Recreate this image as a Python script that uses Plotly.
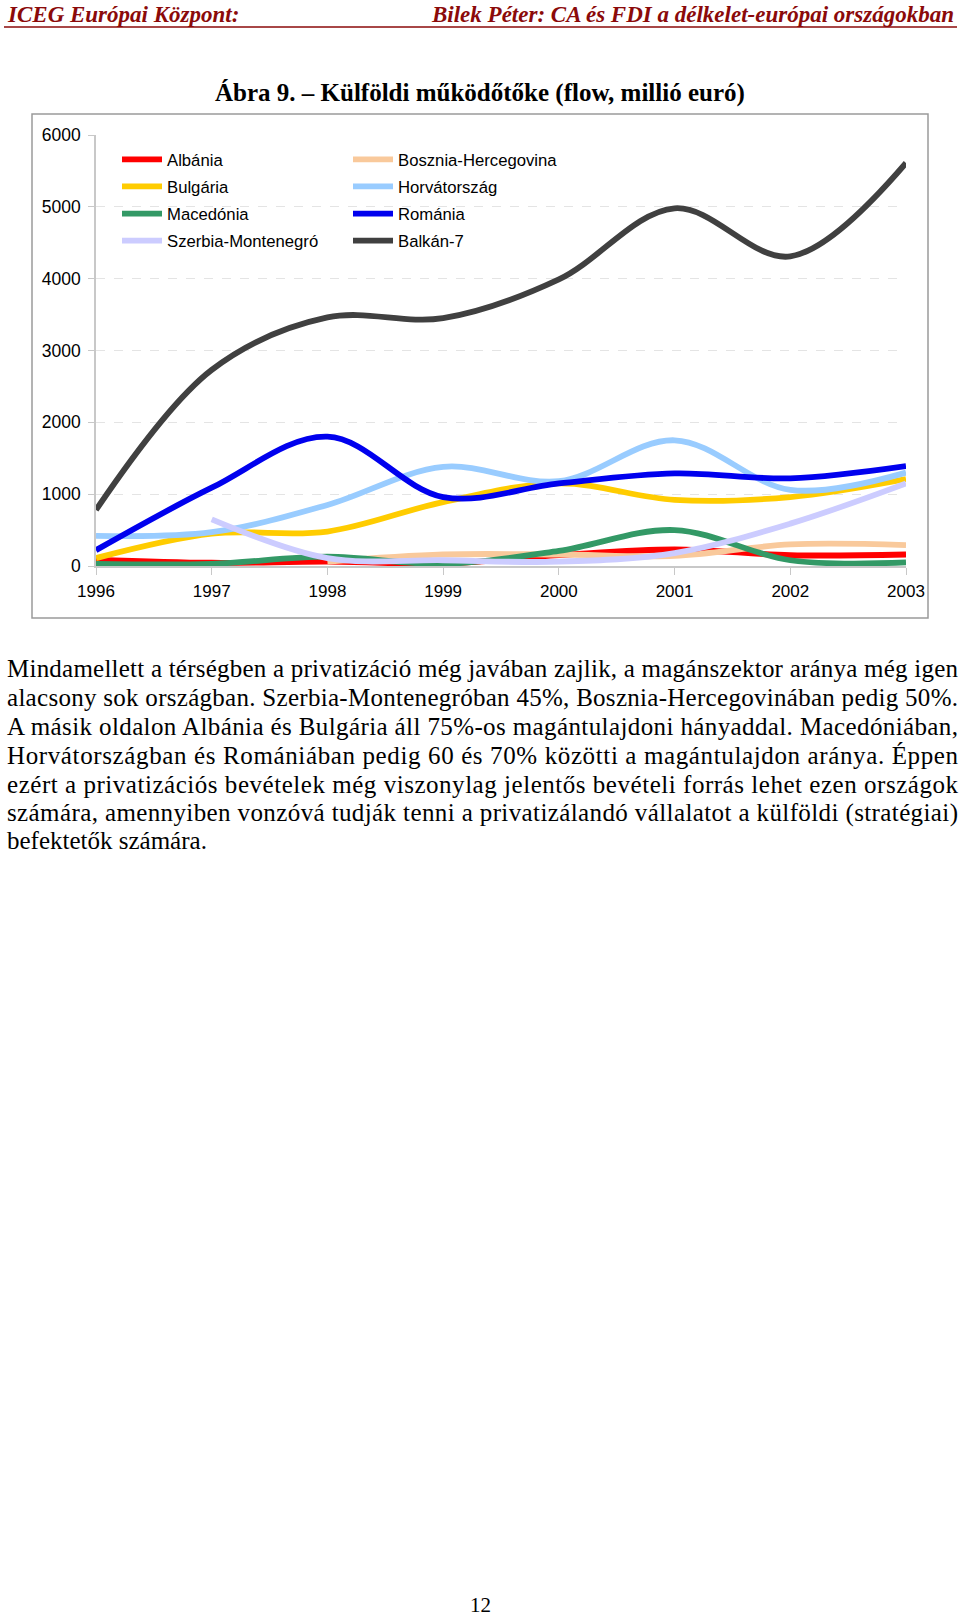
import json
import plotly.graph_objects as go

years = [1996, 1997, 1998, 1999, 2000, 2001, 2002, 2003]
albania = [90, 45, 60, 35, 150, 230, 150, 160]
bosznia = [None, None, 60, 160, 160, 140, 300, 290]
bulgaria = [110, 450, 480, 890, 1150, 920, 960, 1210]
horvat = [420, 470, 850, 1380, 1180, 1750, 1060, 1300]
macedonia = [30, 30, 130, 30, 210, 500, 80, 50]
romania = [220, 1090, 1800, 960, 1150, 1290, 1220, 1390]
szerbia = [None, 650, 110, 80, 60, 180, 590, 1150]
balkan = [780, 2730, 3460, 3450, 3990, 4980, 4310, 5610]

series = [
    ("Albánia", albania, "#FF0000", "legend"),
    ("Bosznia-Hercegovina", bosznia, "#F9C99B", "legend2"),
    ("Bulgária", bulgaria, "#FFCC00", "legend"),
    ("Horvátország", horvat, "#99CCFF", "legend2"),
    ("Macedónia", macedonia, "#339966", "legend"),
    ("Románia", romania, "#0000EE", "legend2"),
    ("Szerbia-Montenegró", szerbia, "#CCCCFF", "legend"),
    ("Balkán-7", balkan, "#404040", "legend2"),
]

paragraph = [
    "Mindamellett a térségben a privatizáció még javában zajlik, a magánszektor aránya még igen",
    "alacsony sok országban. Szerbia-Montenegróban 45%, Bosznia-Hercegovinában pedig 50%.",
    "A másik oldalon Albánia és Bulgária áll 75%-os magántulajdoni hányaddal. Macedóniában,",
    "Horvátországban és Romániában pedig 60 és 70% közötti a magántulajdon aránya. Éppen",
    "ezért a privatizációs bevételek még viszonylag jelentős bevételi forrás lehet ezen országok",
    "számára, amennyiben vonzóvá tudják tenni a privatizálandó vállalatot a külföldi (stratégiai)",
    "befektetők számára.",
]

W, H = 960, 1616
L, R, T, B = 96, 906, 135, 566


def px(x):
    return (x - L) / (R - L)


def py(y):
    return (B - y) / (B - T)


fig = go.Figure()
for name, vals, color, lg in series:
    fig.add_trace(go.Scatter(
        x=years, y=vals, name=name, mode="lines",
        line=dict(color=color, width=5.8, shape="spline", smoothing=1),
        connectgaps=False, legend=lg, legendgroup=name,
    ))

serif = "Liberation Serif"
sans = "Liberation Sans"
dark_red = "#8B0A0A"

annotations = [
    dict(text="<b><i>ICEG Európai Központ:</i></b>", x=px(5), y=py(15), xanchor="left", yanchor="middle",
         font=dict(family=serif, size=23, color=dark_red)),
    dict(text="<b><i>Bilek Péter: CA és FDI a délkelet-európai országokban</i></b>", x=px(956), y=py(15),
         xanchor="right", yanchor="middle", font=dict(family=serif, size=23, color=dark_red)),
    dict(text="<b>Ábra 9. – Külföldi működőtőke (flow, millió euró)</b>", x=px(480), y=py(93),
         xanchor="center", yanchor="middle", font=dict(family=serif, size=25, color="#000")),
    dict(text="12", x=px(480), y=py(1605), xanchor="center", yanchor="middle",
         font=dict(family=serif, size=21, color="#000")),
]
line_y = [668, 697, 726, 755, 784, 813, 841]
for txt, yy in zip(paragraph, line_y):
    annotations.append(dict(text=txt, x=px(5), y=py(yy), xanchor="left", yanchor="middle", align="left",
                            font=dict(family=serif, size=25, color="#000")))
for a in annotations:
    a.update(xref="paper", yref="paper", showarrow=False)

shapes = [
    dict(type="rect", xref="paper", yref="paper", x0=px(32), x1=px(928), y0=py(618), y1=py(114),
         line=dict(color="#9a9a9a", width=1.5), fillcolor="rgba(0,0,0,0)", layer="below"),
    dict(type="line", xref="paper", yref="paper", x0=px(4), x1=px(957), y0=py(27), y1=py(27),
         line=dict(color=dark_red, width=1.5)),
]

legend_common = dict(
    font=dict(family=sans, size=16.7, color="#000"),
    bgcolor="rgba(0,0,0,0)", borderwidth=0, itemwidth=40,
    xanchor="left", yanchor="top", tracegroupgap=2.4, orientation="v",
)

fig.update_layout(
    width=W, height=H,
    margin=dict(l=L, r=W - R, t=T, b=H - B, pad=0),
    paper_bgcolor="white", plot_bgcolor="white",
    showlegend=True,
    legend=dict(x=px(117), y=py(142), **legend_common),
    legend2=dict(x=px(348), y=py(142), **legend_common),
    xaxis=dict(range=[1996, 2003], tickmode="array", tickvals=years,
               ticktext=[str(y) for y in years], showgrid=False, zeroline=False,
               showline=True, linecolor="#c8c8c8", linewidth=1.5,
               ticks="outside", ticklen=7, tickcolor="#c8c8c8", ticklabelstandoff=2,
               tickfont=dict(family=sans, size=17, color="#000")),
    yaxis=dict(range=[0, 6000], tickvals=[0, 1000, 2000, 3000, 4000, 5000, 6000],
               showgrid=True, gridcolor="#e4e4e4", griddash="dash", zeroline=False,
               showline=True, linecolor="#c8c8c8", linewidth=1.5,
               ticks="outside", ticklen=6, tickcolor="#c8c8c8", ticklabelstandoff=4,
               tickfont=dict(family=sans, size=17.5, color="#000")),
    annotations=annotations,
    shapes=shapes,
)

justify = json.dumps(paragraph[:-1])
post = """
document.body.style.margin='0';
var lines = %s;
function justifyLines(){
  document.querySelectorAll('text.annotation-text').forEach(function(t){
    if (lines.indexOf(t.textContent) >= 0) {
      t.setAttribute('textLength', '951');
      t.setAttribute('lengthAdjust', 'spacing');
    }
  });
}
justifyLines();
setTimeout(justifyLines, 50);
""" % justify

fig.write_html("out.html", post_script=post, config={"displayModeBar": False})
